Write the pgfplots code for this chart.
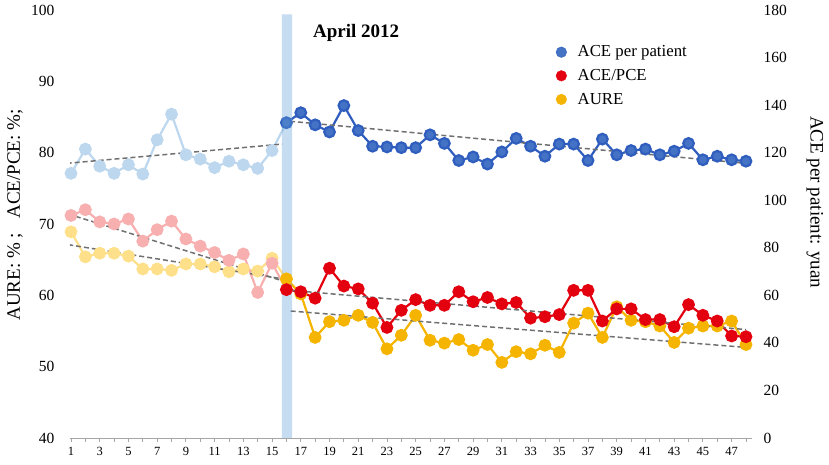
\documentclass[border=0pt]{standalone}
\usepackage{pgfplots}
\pgfplotsset{compat=1.18}
\usepackage{fontspec}
\setmainfont{Liberation Serif}
\definecolor{dblue}{HTML}{4472C4}
\definecolor{dblueline}{HTML}{2F5EBE}
\definecolor{lblue}{HTML}{BDD7EE}
\definecolor{dred}{HTML}{E3000F}
\definecolor{lred}{HTML}{F7AFAF}
\definecolor{dyel}{HTML}{F5B400}
\definecolor{lyel}{HTML}{FFE08A}
\definecolor{bandc}{HTML}{5B9BD5}
\definecolor{trendc}{HTML}{707070}
\definecolor{axisc}{HTML}{A6A6A6}

\pgfplotstableread{
x y
1 111.3
2 121.5
3 114.3
4 111.3
5 114.9
6 111.0
7 125.4
8 136.2
9 119.1
10 117.3
11 113.7
12 116.4
13 114.9
14 113.4
15 120.9
16 132.6
}\aceA
\pgfplotstableread{
x y
16 132.6
17 136.8
18 131.7
19 128.7
20 139.8
21 129.3
22 122.7
23 122.4
24 122.1
25 122.1
26 127.5
27 123.9
28 116.7
29 118.2
30 115.2
31 120.3
32 126.0
33 122.7
34 118.5
35 123.6
36 123.6
37 116.7
38 125.7
39 119.1
40 120.9
41 121.5
42 119.1
43 120.6
44 123.9
45 117.0
46 118.5
47 117.0
48 116.4
}\aceB
\pgfplotstableread{
x y
1 71.2
2 72.0
3 70.3
4 70.0
5 70.7
6 67.6
7 69.2
8 70.4
9 67.9
10 66.9
11 66.0
12 64.9
13 65.8
14 60.4
15 64.5
16 60.8
}\pceA
\pgfplotstableread{
x y
16 60.8
17 60.5
18 59.6
19 63.8
20 61.3
21 60.9
22 58.9
23 55.5
24 57.9
25 59.4
26 58.6
27 58.6
28 60.5
29 59.1
30 59.7
31 58.8
32 59.0
33 56.8
34 57.0
35 57.3
36 60.7
37 60.7
38 56.4
39 58.1
40 58.1
41 56.6
42 56.6
43 55.6
44 58.7
45 57.2
46 56.4
47 54.3
48 54.2
}\pceB
\pgfplotstableread{
x y
1 68.9
2 65.4
3 65.9
4 65.9
5 65.5
6 63.7
7 63.7
8 63.5
9 64.4
10 64.4
11 64.0
12 63.3
13 63.7
14 63.4
15 65.2
16 62.3
}\aureA
\pgfplotstableread{
x y
16 62.3
17 60.2
18 54.1
19 56.3
20 56.5
21 57.2
22 56.2
23 52.5
24 54.4
25 57.2
26 53.7
27 53.3
28 53.8
29 52.3
30 53.1
31 50.6
32 52.1
33 51.8
34 53.0
35 52.0
36 56.1
37 57.5
38 54.1
39 58.4
40 56.5
41 56.3
42 55.7
43 53.4
44 55.4
45 55.7
46 55.7
47 56.4
48 53.1
}\aureB

\pgfplotsset{
  common/.style={
    at={(70pt,27pt)}, anchor=south west, scale only axis,
    width=682pt, height=428pt,
    xmin=0.93, xmax=48.42,
    /pgf/number format/assume math mode=true,
    tick label style={font=\fontsize{15.5}{17}\selectfont},
  },
  ser/.style={line width=2.2pt, mark=*, mark size=5.3pt, mark options={solid}},
  trend/.style={draw=trendc, line width=1.5pt, dash pattern=on 5pt off 3pt, mark=none},
}

\begin{document}
\begin{tikzpicture}[x=1pt,y=1pt]
\path[use as bounding box] (0,0) rectangle (829,465);
% right axis: ACE per patient (yuan)
\begin{axis}[common,
  ymin=0, ymax=180, ytick={0,20,...,180},
  axis y line*=right, hide x axis,
  y axis line style={draw=none}, ytick style={draw=none},
  yticklabel style={xshift=8pt},
  ylabel={ACE per patient: yuan},
  ylabel style={at={(axis description cs:1.092,0.551)}, anchor=center, rotate=180, font=\fontsize{19}{21}\selectfont},
]
\addplot[ser, color=lblue, mark options={fill=lblue, draw=lblue}] table {\aceA};
\addplot[ser, color=dblueline, mark options={fill=dblue, draw=dblueline}] table {\aceB};
\addplot[trend] coordinates {(0.7,115.5) (15.7,123.6)};
\addplot[trend] coordinates {(16.25,133.2) (48,115.5)};
\end{axis}
% left axis: AURE and ACE/PCE (%)
\begin{axis}[common,
  ymin=40, ymax=100, ytick={40,50,...,100},
  axis x line*=bottom, axis y line*=left,
  y axis line style={draw=none}, ytick style={draw=none},
  x axis line style={draw=axisc, line width=0.8pt},
  xtick={1,3,...,47}, minor xtick={2,4,...,48},
  tick align=outside, major tick length=4pt, minor tick length=4pt,
  xtick style={draw=axisc, line width=0.8pt},
  minor tick style={draw=axisc, line width=0.8pt},
  xticklabel style={font=\fontsize{12.5}{14}\selectfont, yshift=-2pt},
  yticklabel style={xshift=-8pt},
  ylabel={AURE: \% ;\ \ \ ACE/PCE: \%;},
  ylabel style={at={(axis description cs:-0.0806,0.521)}, anchor=center, font=\fontsize{19}{21}\selectfont},
  legend style={at={(0.708,0.926)}, anchor=north west, draw=none, fill=none,
    font=\fontsize{16.8}{19}\selectfont, row sep=7pt, column sep=9pt},
  legend cell align=left,
]
\addlegendimage{only marks, mark=*, mark size=5.3pt, draw=dblueline, fill=dblue}
\addlegendentry{ACE per patient}
\addlegendimage{only marks, mark=*, mark size=5.3pt, draw=dred, fill=dred}
\addlegendentry{ACE/PCE}
\addlegendimage{only marks, mark=*, mark size=5.3pt, draw=dyel, fill=dyel}
\addlegendentry{AURE}
\addplot[ser, forget plot, color=lyel, mark options={fill=lyel, draw=lyel}] table {\aureA};
\addplot[ser, forget plot, color=lred, mark options={fill=lred, draw=lred}] table {\pceA};
\addplot[ser, forget plot, color=dyel, mark options={fill=dyel, draw=dyel}] table {\aureB};
\addplot[ser, forget plot, color=dred, mark options={fill=dred, draw=dred}] table {\pceB};
\addplot[trend, forget plot] coordinates {(0.8,71.4) (16.1,61.8)};
\addplot[trend, forget plot] coordinates {(0.8,67.1) (16.1,62.2)};
\addplot[trend, forget plot] coordinates {(16.3,60.7) (48,55.2)};
\addplot[trend, forget plot] coordinates {(16.3,57.8) (48,52.7)};
\addplot[forget plot, draw=none, fill=bandc, fill opacity=0.35] coordinates {(15.69,40) (16.39,40) (16.39,99.4) (15.69,99.4) (15.69,40)};
\node[anchor=west, inner sep=0pt, font=\bfseries\fontsize{19}{21}\selectfont] at (axis cs:17.85,96.8) {April 2012};
\end{axis}
\end{tikzpicture}
\end{document}
